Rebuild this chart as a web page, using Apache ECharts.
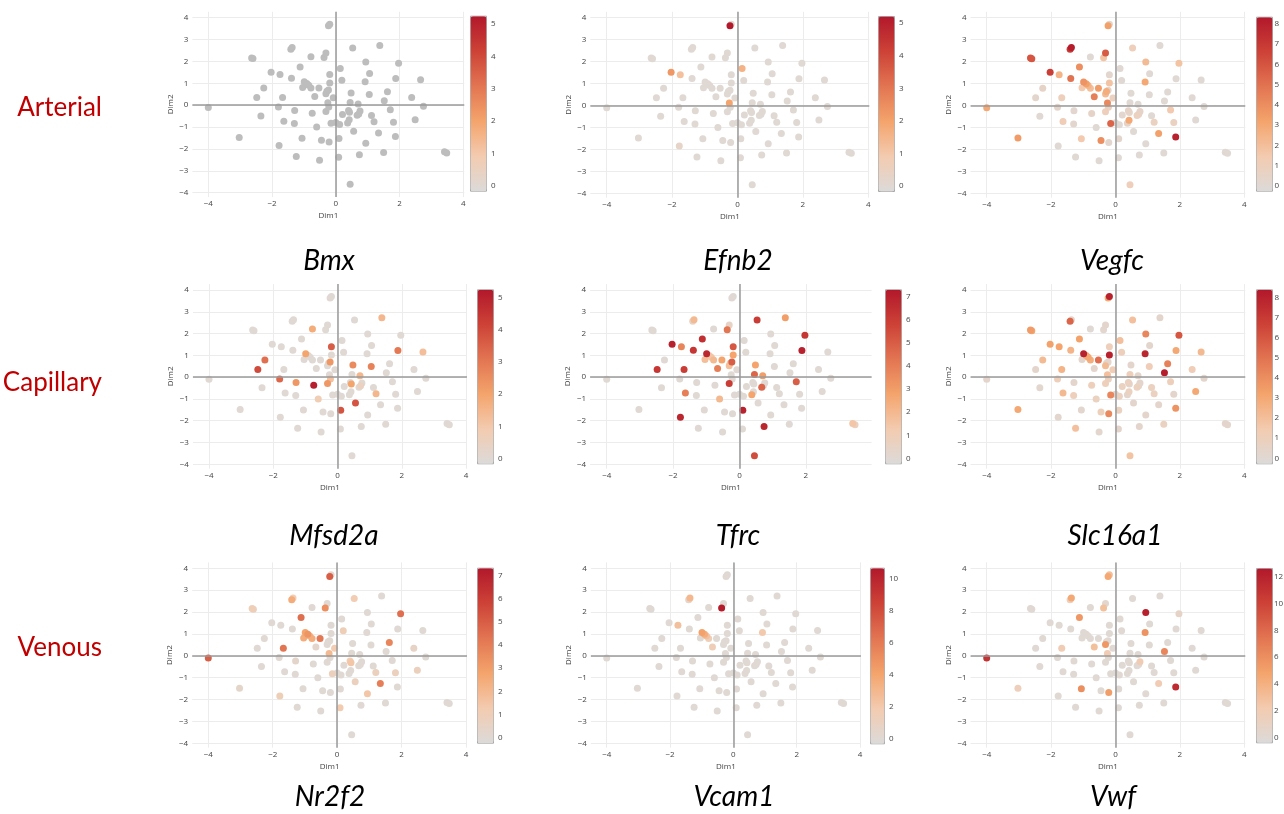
<!DOCTYPE html>
<html><head><meta charset="utf-8">
<script src="https://cdn.jsdelivr.net/npm/echarts@6/dist/echarts.min.js"></script>
<style>html,body{margin:0;padding:0;background:#fff}#c{width:1284px;height:814px}</style>
</head><body><div id="c"></div>
<script>
// ---- data ----
const dim1 = [-4.0,-3.03,-2.64,-2.6,-2.48,-2.35,-2.26,-2.03,-1.8,-1.78,
 -1.75,-1.67,-1.63,-1.41,-1.37,-1.39,-1.29,-1.3,-1.24,-1.12,
 -1.06,-1.04,-0.99,-0.91,-0.85,-0.78,-0.78,-0.74,-0.66,-0.6,
 -0.53,-0.51,-0.45,-0.37,-0.31,-0.31,-0.31,-0.28,-0.25,-0.23,
 -0.22,-0.23,-0.19,-0.19,-0.19,-0.21,-0.15,-0.08,0.0,0.1,
 0.12,0.14,0.09,0.19,0.21,0.37,0.4,0.42,0.43,0.45,
 0.48,0.45,0.53,0.56,0.67,0.7,0.72,0.76,0.74,0.92,
 0.94,0.94,1.05,1.06,1.12,1.2,1.34,1.38,1.5,1.52,
 1.62,1.71,1.81,1.87,1.88,1.97,2.38,2.49,2.66,2.75,
 3.41,3.48];
const dim2 = [-0.1,-1.48,2.16,2.13,0.35,-0.49,0.79,1.51,-0.08,-1.84,
 1.4,0.35,-0.73,2.56,2.64,1.23,-0.24,-0.84,-2.35,1.75,
 -1.51,0.81,1.07,0.99,0.91,2.21,0.79,-0.37,0.4,-1.0,
 0.79,-2.52,-1.6,2.18,2.39,-0.29,0.52,0.64,0.11,0.69,
 -0.08,3.63,3.7,1.4,1.02,-1.68,-0.82,0.34,-0.79,-1.52,
 -0.88,1.68,-2.38,1.14,-0.43,-0.81,-0.24,-0.67,-0.32,0.12,
 0.56,-3.61,2.62,-1.19,-0.46,0.06,-0.4,-0.27,-2.26,1.07,
 1.98,-1.74,0.49,1.45,-0.47,-0.76,-1.27,2.73,-2.16,0.2,
 0.61,-0.21,-0.78,-1.43,1.22,1.92,0.35,-0.66,1.16,-0.05,
 -2.13,-2.18];

const genes = ['Bmx','Efnb2','Vegfc','Mfsd2a','Tfrc','Slc16a1','Nr2f2','Vcam1','Vwf'];
const groups = ['Arterial','Capillary','Venous'];

// Bmx: every cell drawn in plain grey (no expression colouring)
const bmx = null;
const efnb2 = [0,0,0,0,0,0,0,2.3,0,0.3, 1.2,0,0,0,0,0,0,0,0,0, 0,0,0,0,0,0,0,0,0,0, 0,0,0,0,0,0,0,0,2.0,0,
 0,5.2,0,0,0,0,0,0,0,0, 0,1.6,0,0,0,0,0,0,0,0, 0,0,0,0,0,0,0,0,0,0, 0,0,0,0,0,0,0,0,0,0, 0,0,0,0,0,0,0,0,0,0, 0,0];
const vegfc = [3.0,3.5,6.0,6.0,0.3,0,0.5,6.8,0.3,0, 2.5,1.0,1.2,7.0,8.2,5.0,0.2,0.2,0,4.0,
 1.5,1.5,3.8,3.3,2.5,0,2.0,0.5,4.5,0, 3.5,0,4.0,1.8,5.8,1.0,2.2,2.8,4.2,0.3,
 0.8,3.3,0.3,0.2,1.8,0.2,5.5,0.8,0,0.3, 0,0,0,0,0.2,0.6,0.5,3.0,0.2,0,
 0,1.0,1.0,0,0.8,0,0.5,0.5,0,3.0, 2.2,0,0,0,0,0.8,3.3,0,0,0,
 0,1.5,0.8,8.0,0,1.8,0,0,0,0, 0,0];
const mfsd2a = [0,0,0,0,4.0,0,3.2,0,3.4,0, 0,0,0,0,0,0,2.3,0,0,0,
 0,0,2.0,0,0,1.8,0,5.1,0,0.8, 0,0,0,0,0,2.3,0,0,0,2.3,
 1.2,0,0,3.6,0,0,0,0,0,3.8, 0,0,0,0,0,0,0,0,2.0,0,
 2.6,0,0,3.8,0,1.5,0.5,0,0,0, 0,0,2.8,0,0,1.5,0,1.5,0,0,
 0,0,0,0,3.0,0,0,0,1.3,0, 0,0];
const tfrc = [0,0,0,0,6.2,0,0,7.0,0,6.8, 3.8,6.0,4.0,0.5,2.0,6.3,0,0,0,6.5,
 0,1.8,6.8,1.0,1.5,0,2.0,0,4.0,2.0, 2.8,0,0,4.3,0.5,6.0,1.8,1.5,0,5.0,
 0,0,0,5.2,2.8,0,0,0,0,7.0, 0,0,0,0,0,2.8,0,0,0,4.8,
 2.8,5.5,6.0,0,4.8,3.0,0,0,6.8,0, 0,0,0,0,0,0,0,3.0,0,0,
 0,5.0,0,0,7.0,6.2,0,0,0,0, 1.5,0.8];
const slc16a1 = [0.3,3.0,3.5,3.2,0.3,0.2,2.2,3.3,1.0,0.2, 3.2,2.5,2.3,5.5,0.3,2.5,0.3,1.0,2.0,3.3,
 0.2,0.3,8.0,3.0,3.0,0,2.8,1.0,0.3,0.8, 5.2,0.2,1.0,0.2,0.3,1.0,2.2,0.3,2.0,0.3,
 0.8,3.0,8.0,1.0,8.0,4.2,4.3,1.2,0.3,0.8, 0.8,2.0,0.3,1.0,0.8,0.3,0.8,0.8,0.3,1.0,
 0.3,1.8,2.0,0.3,0.8,0.3,0.3,0.3,0.3,7.8, 4.3,0.3,1.2,0.3,0.8,0.8,0.3,0.3,0.8,8.2,
 4.5,1.0,0.3,3.8,3.0,6.0,1.2,3.0,2.3,0.3, 0.3,0.3];
const nr2f2 = [5.0,0.3,1.0,0.8,0,0,0,0,0,1.0, 0,4.3,0,2.5,1.2,0,0.3,0,0,4.5,
 0,2.5,2.8,3.3,2.2,0,2.5,0,0.3,0, 4.2,0,0,3.5,0,0,0,0,2.0,0,
 0,5.0,0.2,0,0,0,0.8,1.2,0,0, 0,0,1.3,1.0,0,0,1.2,0,1.5,0,
 0,0,1.2,0.8,0,0,0,0,0,0, 0,1.5,0,0,0,0.8,4.0,0,0,0,
 3.8,0,0.8,0,0,4.5,0.5,0.8,0,0, 0,0];
const vcam1 = [0,0,0,0,0,0,0,0,0,0, 2.5,0,0,0.5,3.0,0,0,0,0,0,
 0,0,4.2,3.5,2.5,0,1.5,0,1.5,0, 0,0,0,10.5,0,0,0,0,0,0,
 0,0,0,0,0,0,0,0,0,0, 0,0,0,0,0,0,0,0,0,0,
 0,0,0,0,0,0,0,0,0,2.0, 0,0,0,0,0,0,0,0,0,0,
 0,0,0,0,0,0,0,0,0,0, 0,0];
const vwf = [11.0,1.5,0,0,0,0,0,0,0,0, 0,2.0,0,1.5,4.5,0,0,0,0,5.5,
 6.0,0,0,0,0,0,0,0,3.0,0, 0,0,0,3.0,0.3,0,5.5,0,2.0,0,
 0,4.5,3.0,0,0,5.2,0,0,0,0, 0,0,0,0,0,0,0,0,0,0,
 0,0,0,0,0,0,0,2.0,0,5.8, 12.2,0,0,0,0,0,2.0,0,0,6.5,
 0,0,0,11.5,0,0.8,0,0,0,0, 0,0];
const expression = [bmx, efnb2, vegfc, mfsd2a, tfrc, slc16a1, nr2f2, vcam1, vwf];

const colorbarMax = [5.26, 5.22, 8.36, 5.27, 7.33, 8.4, 7.34, 10.7, 12.67];
const colorbarTicks = [[0,1,2,3,4,5],[0,1,2,3,4,5],[0,1,2,3,4,5,6,7,8],[0,1,2,3,4,5],
 [0,1,2,3,4,5,6,7],[0,1,2,3,4,5,6,7,8],[0,1,2,3,4,5,6,7],[0,2,4,6,8,10],[0,2,4,6,8,10,12]];
const xTickLabels = [[-4,-2,0,2,4],[-4,-2,0,2,4],[-4,-2,0,2,4],[-4,-2,0,2,4],[-4,-2,0,2],
 [-4,-2,0,2,4],[-4,-2,0,2,4],[-4,-2,0,2,4],[-4,-2,0,2,4]];
const yTickLabels = [-4,-3,-2,-1,0,1,2,3,4];
const xMaxes = [4.03,4.03,4.03,4.03,3.98,4.03,4.03,4.03,4.03];

// ---- layout (pixels) ----
// [px of x=-4, px of x=4, px of y=4, px of y=-4]
const panelPx = [[208.3,463.3,17.7,192.7],[606.7,868.3,17.7,193.3],[986.7,1244.3,17.7,193.3],
 [209,466,290,464.3],[606.7,872.3,290,464.3],[986.7,1244.3,290,464.3],
 [208.3,466,568.3,743.3],[606.7,860,568.3,743.3],[986.7,1244.3,568.3,743.3]];
// colorbar [left, top, width, height, label margin]
const cbPx = [[470,15.7,16,175,5],[878,16,16,175,5],[1256,16.7,16,174,2.5],
 [477,289.3,16,174,5],[885,289.3,16,174,5],[1256,289.3,16,174,2.5],
 [477,567.7,16,175,5],[870,567.7,14,175.6,5],[1256,568,16,174.3,2]];
const geneLabelPos = [[329,261],[738,261],[1112,261],[334,536],[738,536],[1115,536],[330,797],[734,797],[1113,797]];
const groupLabelY = [108,383,648];

const X_MIN = -4.5, Y_MIN = -4.2, Y_MAX = 4.27;
const palette = ['#dcdad9','#f3cbb0','#f4a46c','#e27552','#cd4237','#b2182b'];
const minus = v => String(v).replace('-', '\u2212');
const tickFont = {fontFamily:'Open Sans', fontSize:8, color:'#444', formatter:minus};

const grid = [], xAxis = [], yAxis = [], series = [], visualMap = [], graphic = [];

genes.forEach((g, i) => {
  const [a, b, c, d] = panelPx[i];
  const px = (b - a) / 8, py = (d - c) / 8;
  grid.push({left: a - (-4 - X_MIN) * px, width: (xMaxes[i] - X_MIN) * px,
             top: c - (Y_MAX - 4) * py, height: (Y_MAX - Y_MIN) * py, outerBoundsMode: 'none'});
  xAxis.push({type:'value', gridIndex:i, min:X_MIN, max:xMaxes[i],
    name:'Dim1', nameLocation:'middle', nameGap:15, nameTextStyle:{fontFamily:'Open Sans', fontSize:8, color:'#444'},
    axisLine:{show:false}, axisTick:{show:false, customValues:xTickLabels[i]},
    axisLabel:Object.assign({customValues:xTickLabels[i], margin:3}, tickFont),
    splitLine:{show:true, lineStyle:{color:'#ececec', width:1}}});
  yAxis.push({type:'value', gridIndex:i, min:Y_MIN, max:Y_MAX,
    name:'Dim2', nameLocation:'middle', nameGap:18, nameRotate:90, nameTextStyle:{fontFamily:'Open Sans', fontSize:8, color:'#444'},
    axisLine:{show:false}, axisTick:{show:false, customValues:yTickLabels},
    axisLabel:Object.assign({customValues:yTickLabels, margin:4}, tickFont),
    splitLine:{show:true, lineStyle:{color:'#ececec', width:1}}});
  const vals = expression[i];
  let data = dim1.map((x, k) => vals ? [x, dim2[k], vals[k]] : [x, dim2[k]]);
  if (vals) data = data.slice().sort((p, q) => p[2] - q[2]); // higher expression drawn on top
  series.push({type:'scatter', xAxisIndex:i, yAxisIndex:i, z:3, symbolSize:7, silent:true,
    itemStyle: vals ? {opacity:1} : {opacity:1, color:'#bdbdbd'}, data});
  graphic.push({type:'text', x:geneLabelPos[i][0], y:geneLabelPos[i][1], silent:true,
    style:{text:g, textAlign:'center', textVerticalAlign:'middle', font:'italic 28px Lato', fill:'#000'}});
});
// zero lines
genes.forEach((g, i) => {
  series.push({type:'line', xAxisIndex:i, yAxisIndex:i, z:1, data:[], silent:true,
    markLine:{silent:true, symbol:'none', animation:false, label:{show:false},
      lineStyle:{color:'#9a9a9a', width:1.5, type:'solid'}, emphasis:{disabled:true},
      data:[{xAxis:0},{yAxis:0}]}});
});
// colorbars
genes.forEach((g, i) => {
  const [l, t, w, h, m] = cbPx[i];
  const vmax = colorbarMax[i];
  const vmin = -vmax * 5 / (h - 5);
  const gi = 9 + i;
  grid.push({left:l, top:t, width:w, height:h, outerBoundsMode:'none'});
  xAxis.push({type:'value', gridIndex:gi, show:false});
  yAxis.push({type:'value', gridIndex:gi, min:vmin, max:vmax, position:'right',
    axisLine:{show:false}, axisTick:{show:false}, splitLine:{show:false},
    axisLabel:Object.assign({customValues:colorbarTicks[i], margin:m}, tickFont)});
  visualMap.push({type:'continuous', min:vmin, max:vmax, dimension:2,
    seriesIndex: expression[i] ? [i] : [], left:l, top:t, itemWidth:w, itemHeight:h,
    padding:0, calculable:false, hoverLink:false, text:null, showLabel:false,
    borderWidth:1, borderColor:'#a8a8a8', inRange:{color:palette}});
});
groups.forEach((r, k) => {
  graphic.push({type:'text', x:102, y:groupLabelY[k], silent:true,
    style:{text:r, textAlign:'right', textVerticalAlign:'middle', font:'26px Lato', fill:'#c00000'}});
});

const chart = echarts.init(document.getElementById('c'), null, {renderer:'canvas'});
chart.setOption({animation:false, backgroundColor:'#fff', grid, xAxis, yAxis, series, visualMap, graphic});
</script></body></html>
